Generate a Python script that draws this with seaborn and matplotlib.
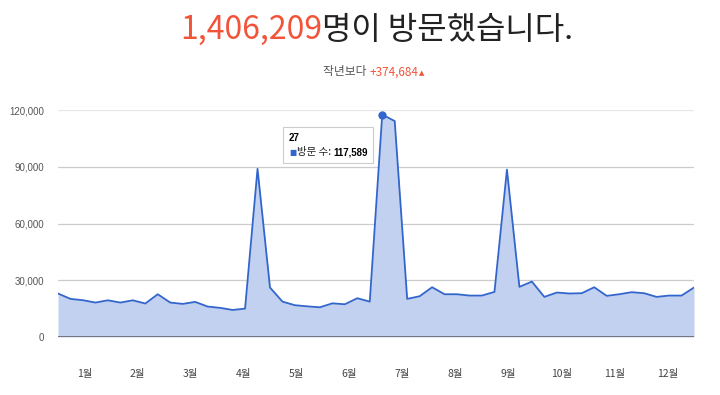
import numpy as np
import pandas as pd
import matplotlib
matplotlib.use("Agg")
import matplotlib.pyplot as plt
import seaborn as sns
from matplotlib.patches import FancyBboxPatch

# ---- data ----
weeks = list(range(1, 53))
visits = [23000, 20150, 19450, 18200, 19400, 18200, 19400, 17700, 22600, 18200,
          17500, 18550, 16100, 15400, 14300, 15000, 88900, 26150, 18700, 16800,
          16200, 15700, 17800, 17300, 20500, 18700, 117589, 114150, 20150, 21550,
          26300, 22600, 22600, 21900, 21900, 23850, 88500, 26500, 29300, 21200,
          23500, 23000, 23150, 26300, 21750, 22600, 23700, 23150, 21200, 21900,
          21900, 26150]
months = ["1월", "2월", "3월", "4월", "5월", "6월", "7월", "8월", "9월", "10월", "11월", "12월"]
y_ticks = [0, 30000, 60000, 90000, 120000]
total_visits = 1406209
diff_prev_year = 374684
series_name = "방문 수"

df = pd.DataFrame({"week": weeks, "visits": visits})

sns.set_theme(style="white")
plt.rcParams['font.family'] = ['Noto Sans CJK KR', 'DejaVu Sans']

W, H = 720, 395
fig = plt.figure(figsize=(W / 100, H / 100), dpi=100)
ax = fig.add_axes([58 / W, 1 - 337 / H, (694 - 58) / W, (337 - 110) / H])

line_c = "#3366cc"
ax.fill_between(df["week"], df["visits"], 0, color="#c3d1f0", lw=0, zorder=1)
sns.lineplot(data=df, x="week", y="visits", ax=ax, color=line_c, lw=1.3, zorder=3)

ax.set_xlim(df["week"].min(), df["week"].max())
ax.set_ylim(0, 120000)
ax.set_xlabel("")
ax.set_ylabel("")
for s in ax.spines.values():
    s.set_visible(False)

for v in y_ticks[1:]:
    ax.axhline(v, color="#e8e8e8" if v == 120000 else "#cccccc",
               lw=1.6 if v == 120000 else 0.9, zorder=0)
ax.axhline(0, color="#666666", lw=1.2, zorder=4)

ax.set_yticks(y_ticks)
ax.set_yticklabels([f"{v:,}" for v in y_ticks], fontsize=7, color="#555555",
                   family=["Liberation Sans", "DejaVu Sans"])
ax.tick_params(axis="y", length=0, pad=10)

span = df["week"].max() - df["week"].min()
xt = [df["week"].min() + (k + 0.5) * span / 12 for k in range(12)]
ax.set_xticks(xt)
ax.set_xticklabels(months, fontsize=7.5, color="#444444")
ax.tick_params(axis="x", length=0, pad=23)

# peak marker + tooltip
imax = int(np.argmax(df["visits"].values))
pw, pv = df["week"].iloc[imax], df["visits"].iloc[imax]
ax.plot([pw], [pv], "o", color=line_c, ms=5, zorder=5, clip_on=False)

box = FancyBboxPatch((283 / W, 1 - 163 / H), 90 / W, 36 / H, boxstyle="square,pad=0",
                     transform=fig.transFigure, facecolor="white", edgecolor="#cccccc",
                     lw=0.8, zorder=10)
fig.patches.append(box)
fig.text(289 / W, 1 - 138 / H, f"{pw}", fontsize=7, fontweight="bold", color="black",
         va="center", ha="left", zorder=11, family=["Liberation Sans", "DejaVu Sans"])
fig.text(289 / W, 1 - 152 / H, "■", fontsize=5.5, color=line_c, va="center", ha="left", zorder=11,
         family=["DejaVu Sans"])
fig.text(297 / W, 1 - 152 / H, f"{series_name}: ", fontsize=7.5, color="#222222",
         va="center", ha="left", zorder=11)
fig.text(333 / W, 1 - 152 / H, f"{pv:,}", fontsize=7, fontweight="bold", color="black",
         va="center", ha="left", zorder=11, family=["Liberation Sans", "DejaVu Sans"])

# title
orange = "#f2543a"
t1 = fig.text(180 / W, 1 - 30 / H, f"{total_visits:,}", fontsize=23, color=orange,
              va="center", ha="left", fontweight="light")
fig.canvas.draw()
bb = t1.get_window_extent()
fig.text(bb.x1 / W, 1 - 30 / H, "명이 방문했습니다.", fontsize=23, color="#222222",
         va="center", ha="left", fontweight="light")

t2 = fig.text(323 / W, 1 - 72 / H, "작년보다 ", fontsize=8.5, color="#555555", va="center", ha="left")
fig.canvas.draw()
bb2 = t2.get_window_extent()
t3 = fig.text(bb2.x1 / W, 1 - 72 / H, f"+{diff_prev_year:,}", fontsize=8.5, color=orange,
              va="center", ha="left")
fig.canvas.draw()
bb3 = t3.get_window_extent()
fig.text(bb3.x1 / W + 1 / W, 1 - 73 / H, "▲", fontsize=5, color=orange, va="center", ha="left",
         family=["DejaVu Sans"])

fig.savefig("out.png", dpi=100)
